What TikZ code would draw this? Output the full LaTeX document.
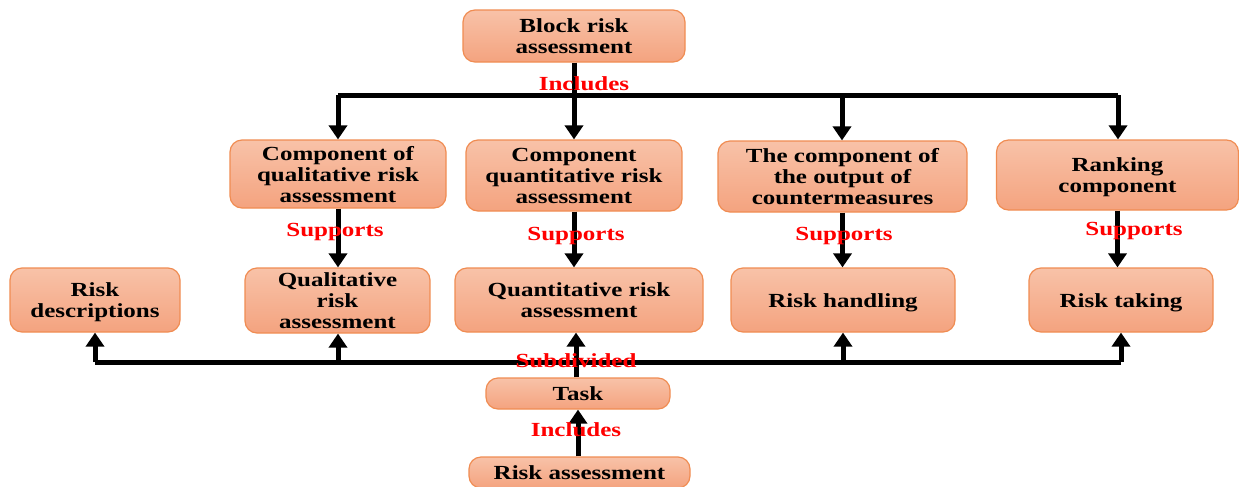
\documentclass[tikz,border=0pt]{standalone}
\usepackage{fontspec}
\setmainfont{Liberation Serif}
\usepackage{graphicx}
\usetikzlibrary{arrows.meta}
\definecolor{boxtop}{RGB}{248,194,168}
\definecolor{boxbot}{RGB}{244,163,127}
\definecolor{boxline}{RGB}{240,140,82}
\newcommand\wt[1]{\raisebox{-2.4pt}[\height][\depth]{\scalebox{1.25}[1]{\begin{tabular}{@{}c@{}}#1\end{tabular}}}}
\tikzset{
  box/.style={draw=boxline, line width=0.9pt, rounded corners=9pt,
    top color=boxtop, bottom color=boxbot, inner sep=0pt,
    font=\bfseries\fontsize{15}{15.8}\selectfont, text=black},
  conn/.style={line width=3.75pt, draw=black},
  arr/.style={conn, -{Triangle[width=13.5pt,length=10.5pt]}},
  lbl/.style={text=red, font=\bfseries\fontsize{15}{15}\selectfont, inner sep=0pt},
}
\newcommand\lt[1]{\scalebox{1.25}[1]{#1}}
\begin{document}
\begin{tikzpicture}[x=0.75pt,y=-0.75pt]
\useasboundingbox (0,0) rectangle (1239,486);
% boxes
\node[box, minimum width=166.5pt, minimum height=39pt] (blk) at (574,36) {\wt{Block risk\\assessment}};
\node[box, minimum width=162pt, minimum height=51pt] (cql) at (338,174) {\wt{Component of\\qualitative risk\\assessment}};
\node[box, minimum width=162pt, minimum height=53.25pt] (cqn) at (574,175.5) {\wt{Component\\quantitative risk\\assessment}};
\node[box, minimum width=186.75pt, minimum height=53.25pt] (cout) at (842.5,176.5) {\wt{The component of\\the output of\\countermeasures}};
\node[box, minimum width=181.5pt, minimum height=52.5pt] (crank) at (1117.5,175) {\wt{Ranking\\component}};
\node[box, minimum width=127.5pt, minimum height=48pt] (rdesc) at (95,300) {\wt{Risk\\descriptions}};
\node[box, minimum width=138.75pt, minimum height=48.75pt] (qla) at (337.5,300.5) {\wt{Qualitative\\risk\\assessment}};
\node[box, minimum width=186pt, minimum height=48pt] (qna) at (579,300) {\wt{Quantitative risk\\assessment}};
\node[box, minimum width=168pt, minimum height=48pt] (rh) at (843,300) {\wt{Risk handling}};
\node[box, minimum width=138pt, minimum height=48pt] (rt) at (1121,300) {\wt{Risk taking}};
\node[box, minimum width=138pt, minimum height=23.25pt] (task) at (578,393.5) {\wt{Task}};
\node[box, minimum width=165.75pt, minimum height=23.25pt] (ra) at (579.5,472.5) {\wt{Risk assessment}};
% top distribution
\coordinate (tl) at (338,95);
\coordinate (tr) at (1118,95);
\coordinate (tm) at (842,95);
\draw[arr] (blk.south -| cqn.north) -- (cqn.north);
\draw[conn] (tl) -- (tr);
\draw[arr] (tl) -- (cql.north -| tl);
\draw[arr] (tm) -- (cout.north -| tm);
\draw[arr] (tr) -- (crank.north -| tr);
% supports
\draw[arr] (cql.south) -- (cql.south |- qla.north);
\draw[arr] (cqn.south) -- (cqn.south |- qna.north);
\draw[arr] (cout.south) -- (cout.south |- rh.north);
\draw[arr] (crank.south) -- (crank.south |- rt.north);
% bottom distribution
\coordinate (bl) at (95,362);
\coordinate (br) at (1121,362);
\coordinate (bq) at (338,362);
\coordinate (bh) at (843,362);
\draw[conn] (bl) -- (br);
\draw[arr] (bl) -- (rdesc.south);
\draw[arr] (bq) -- (qla.south -| bq);
\draw[arr] (bh) -- (rh.south -| bh);
\draw[arr] (br) -- (rt.south);
\draw[arr] (task.north -| 576,0) -- (qna.south -| 576,0);
\draw[arr] (ra.north -| task.south) -- (task.south);
% labels
\node[lbl] (l1) at (584,84) {\lt{Includes}};
\node[lbl] (l2) at (335,232) {\lt{Supports}};
\node[lbl] (l3) at (576,236) {\lt{Supports}};
\node[lbl] (l4) at (844,236) {\lt{Supports}};
\node[lbl] (l5) at (1134,231) {\lt{Supports}};
\node[lbl] (l6) at (576,361) {\lt{Subdivided}};
\node[lbl] (l7) at (576,430) {\lt{Includes}};
\end{tikzpicture}
\end{document}
